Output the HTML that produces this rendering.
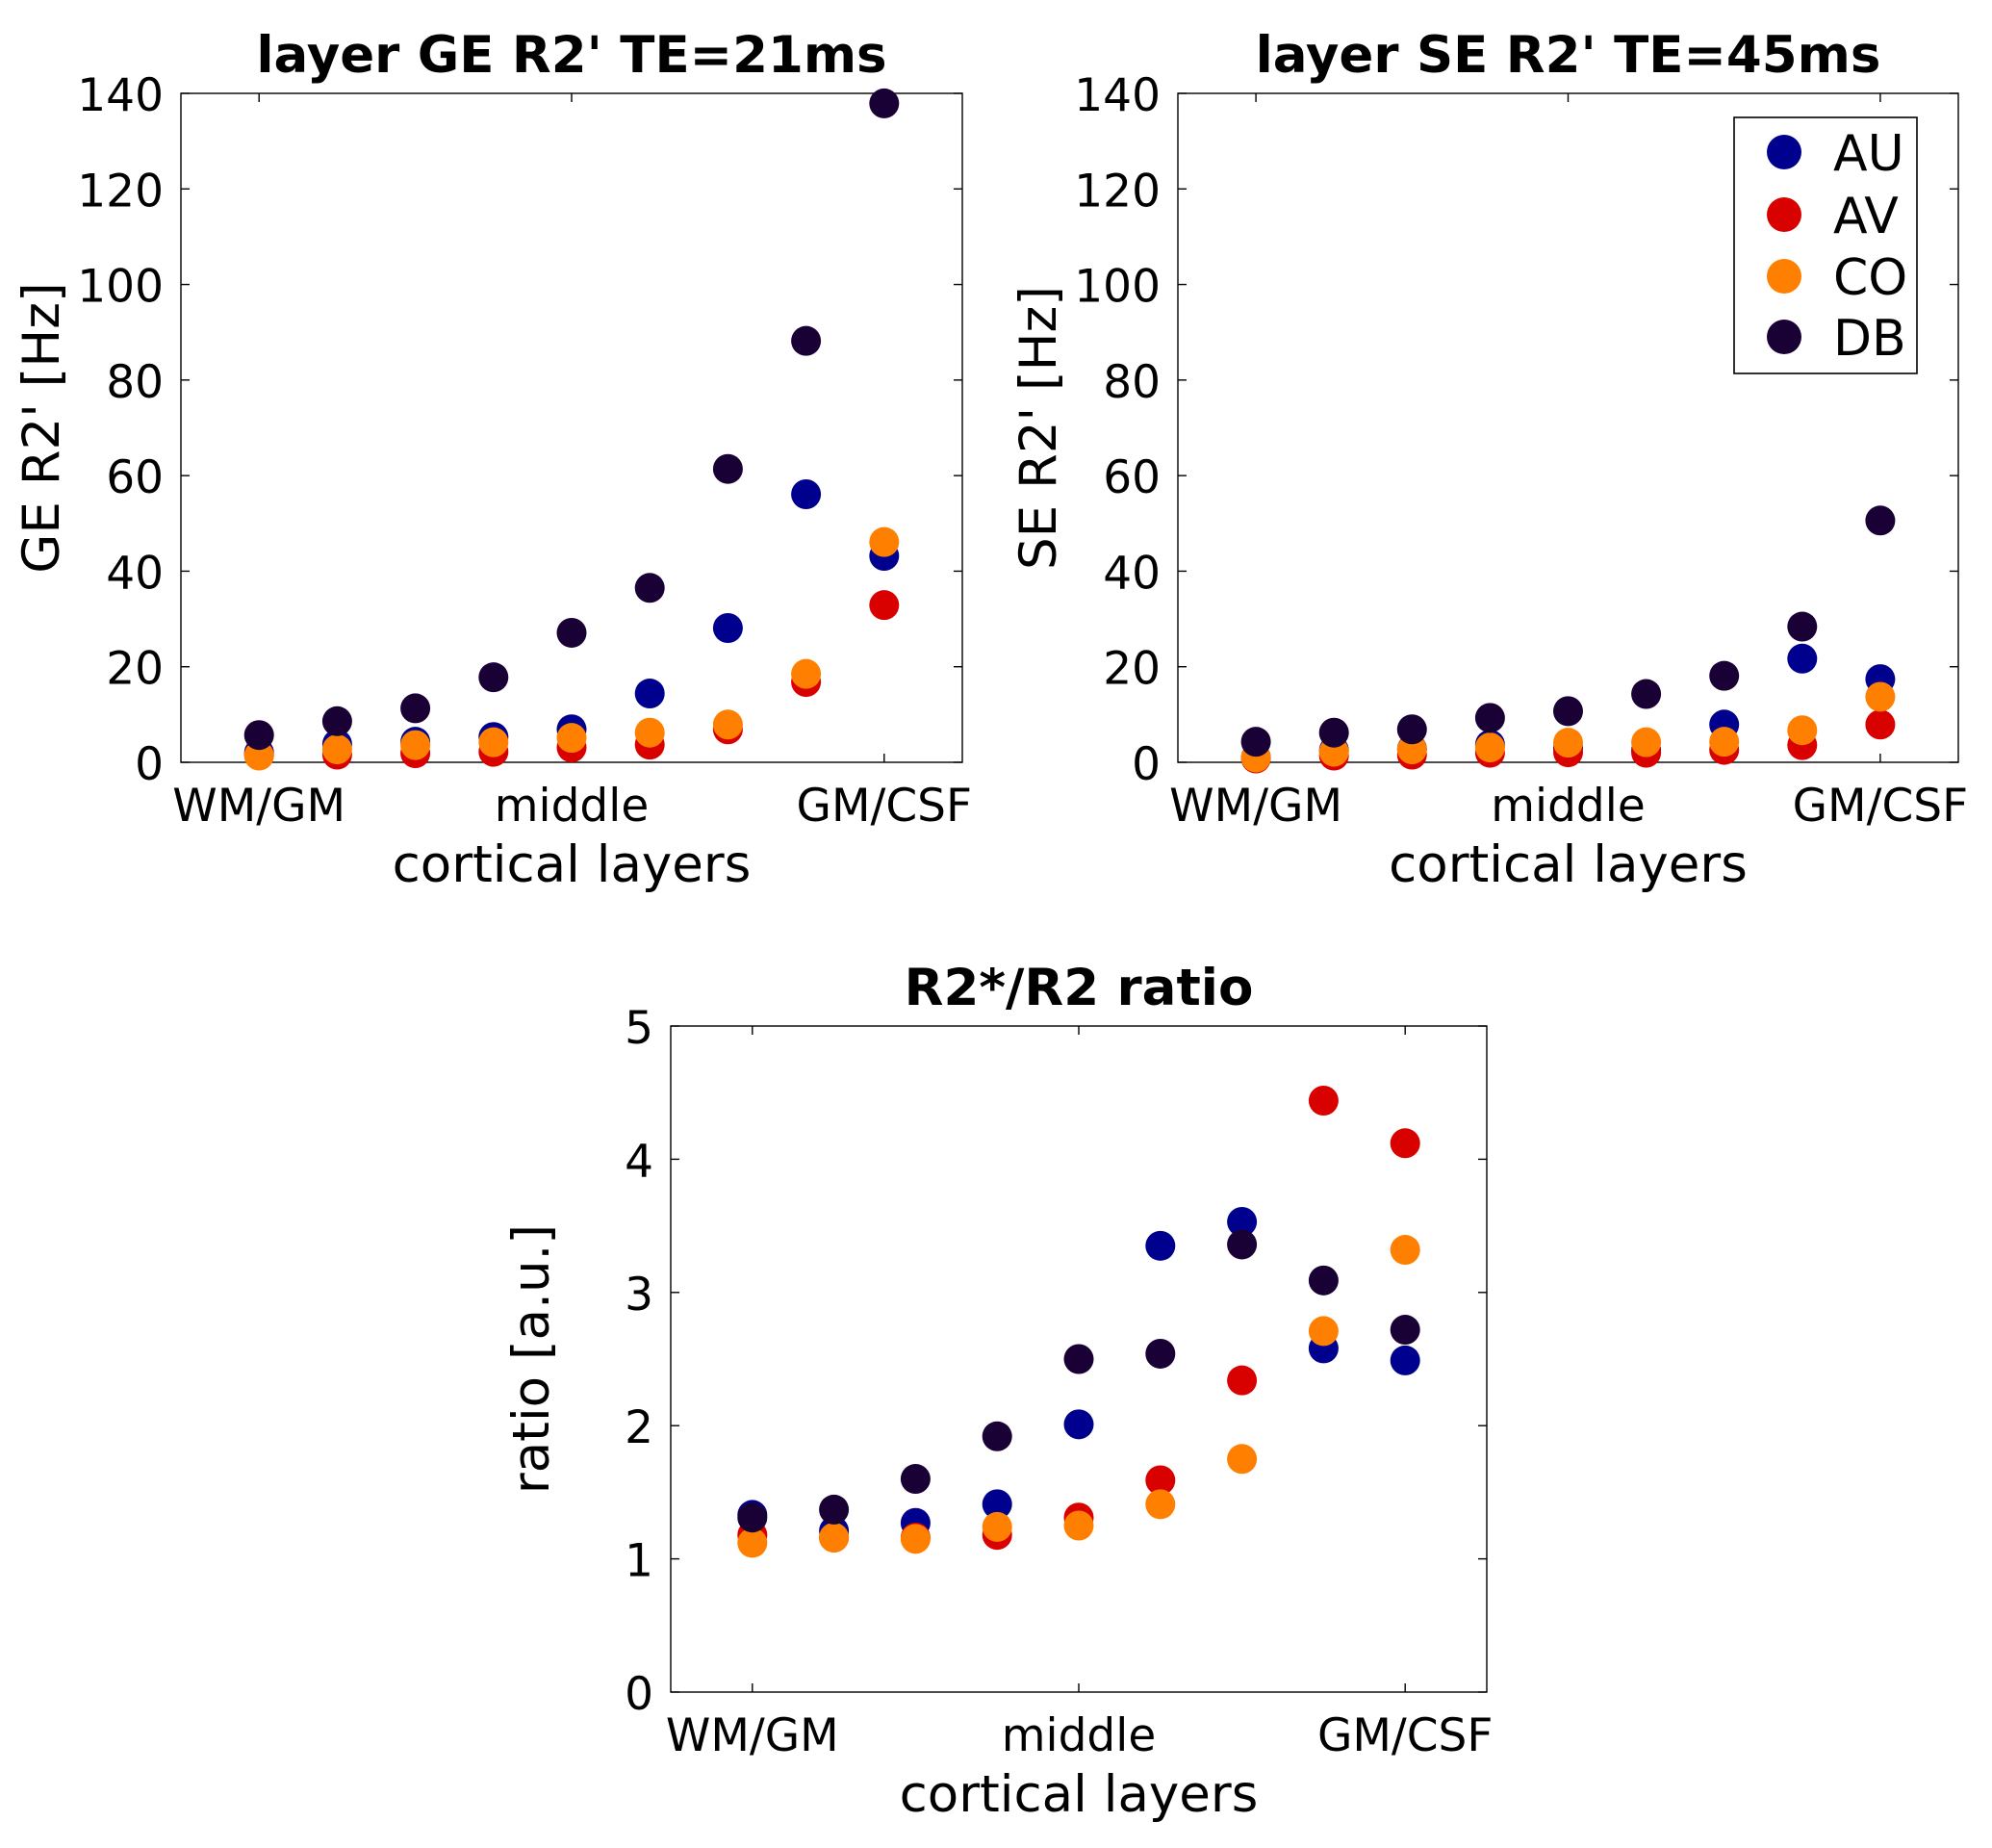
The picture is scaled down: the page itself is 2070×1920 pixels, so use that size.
<!DOCTYPE html>
<html><head><meta charset="utf-8"><style>
html,body{margin:0;padding:0;background:#fff}
svg{display:block}
text{font-family:"DejaVu Sans","Liberation Sans",sans-serif;fill:#000}
</style></head>
<body>
<svg id="fig" width="2070" height="1920" viewBox="0 0 2070 1920" xmlns="http://www.w3.org/2000/svg"></svg>
<script>
const seriesNames = ["AU","AV","CO","DB"];
const seriesColors = ["#00008f","#d90000","#ff7f00","#190035"];
const layerPositions = [1,2,3,4,5,6,7,8,9];
const xTickValues = [1,5,9];
const xTickLabels = ["WM/GM","middle","GM/CSF"];
const ticksHz = [0,20,40,60,80,100,120,140];
const ticksRatio = [0,1,2,3,4,5];

const geAU = [2.0,3.8,4.3,5.3,6.9,14.4,28.1,56.1,43.2];
const geAV = [1.5,1.6,1.9,2.2,3.1,3.7,6.9,16.8,32.9];
const geCO = [1.4,2.7,3.6,4.2,5.1,6.2,7.9,18.5,46.1];
const geDB = [5.7,8.6,11.3,17.8,27.1,36.5,61.4,88.2,137.9];

const seAU = [1.0,2.5,2.8,3.7,3.0,2.5,7.9,21.7,17.4];
const seAV = [0.8,1.4,1.6,2.0,2.1,2.0,2.6,3.6,7.9];
const seCO = [1.0,2.2,2.7,3.1,4.1,4.2,4.3,6.7,13.7];
const seDB = [4.3,6.2,6.9,9.3,10.7,14.3,18.1,28.4,50.6];

const rAU = [1.33,1.21,1.27,1.41,2.01,3.35,3.53,2.58,2.49];
const rAV = [1.18,1.16,1.16,1.18,1.31,1.59,2.34,4.44,4.12];
const rCO = [1.12,1.16,1.15,1.24,1.25,1.41,1.75,2.71,3.32];
const rDB = [1.31,1.37,1.60,1.92,2.50,2.54,3.36,3.09,2.72];

const NS="http://www.w3.org/2000/svg";
const svg=document.getElementById('fig');
function mk(tag,attrs,parent){const e=document.createElementNS(NS,tag);for(const k in attrs)e.setAttribute(k,attrs[k]);(parent||svg).appendChild(e);return e;}

function plot(cfg){
  const g=mk('g',{});
  
  
  const {L,R,T,B,ymax,yticks}=cfg;
  const xs=v=>L+(v-0)/(10-0)*(R-L);
  const ys=v=>B-(v/ymax)*(B-T);
  const frame=mk('rect',{x:L,y:T,width:R-L,height:B-T,fill:'none',stroke:'#000','stroke-width':1.4},g);
  
  
  yticks.forEach(v=>{
    const y=ys(v);
    mk('line',{x1:L,x2:L+9,y1:y,y2:y,stroke:'#000','stroke-width':1.4},g);
    mk('line',{x1:R,x2:R-9,y1:y,y2:y,stroke:'#000','stroke-width':1.4},g);
    const t=mk('text',{x:L-18,y:y+18,'font-size':47,'text-anchor':'end'},g);
    
    
    t.textContent=String(v);
  });
  xTickValues.forEach((v,i)=>{
    const x=xs(v);
    mk('line',{x1:x,x2:x,y1:B,y2:B-9,stroke:'#000','stroke-width':1.4},g);
    mk('line',{x1:x,x2:x,y1:T,y2:T+9,stroke:'#000','stroke-width':1.4},g);
    const t=mk('text',{x:x,y:B+61,'font-size':47,'text-anchor':'middle'},g);
    
    
    t.textContent=xTickLabels[i];
  });
  const title=mk('text',{x:(L+R)/2,y:T-22,'font-size':53,'font-weight':'bold','text-anchor':'middle'},g);
  
  
  title.textContent=cfg.title;
  const xl=mk('text',{x:(L+R)/2,y:B+124,'font-size':53,'text-anchor':'middle'},g);
  
  
  xl.textContent='cortical layers';
  const cy=(T+B)/2, bx=L-127;
  const yl=mk('text',{x:bx,y:cy,'font-size':53,'text-anchor':'middle',transform:`rotate(-90 ${bx} ${cy})`},g);
  
  
  yl.textContent=cfg.ylabel;
  cfg.series.forEach((arr,si)=>{
    arr.forEach((v,i)=>{
      const c=mk('circle',{cx:xs(layerPositions[i]),cy:ys(v),r:15.5,fill:seriesColors[si]},g);
      
      
    });
  });
}

plot({name:'ge-r2prime-chart',L:188,R:1000,T:97,B:792,ymax:140,yticks:ticksHz,
  title:"layer GE R2' TE=21ms",ylabel:"GE R2' [Hz]",series:[geAU,geAV,geCO,geDB]});
plot({name:'se-r2prime-chart',L:1224,R:2035,T:97,B:792,ymax:140,yticks:ticksHz,
  title:"layer SE R2' TE=45ms",ylabel:"SE R2' [Hz]",series:[seAU,seAV,seCO,seDB]});
plot({name:'ratio-chart',L:697,R:1545,T:1066,B:1758,ymax:5,yticks:ticksRatio,
  title:"R2*/R2 ratio",ylabel:"ratio [a.u.]",series:[rAU,rAV,rCO,rDB]});

// legend
const lg=mk('g',{});


mk('rect',{x:1802,y:122,width:190,height:266,fill:'#fff',stroke:'#000','stroke-width':1.6},lg);
const legendY=[158,223,287,350];
seriesNames.forEach((n,i)=>{
  const c=mk('circle',{cx:1854,cy:legendY[i],r:18,fill:seriesColors[i]},lg);
  
  
  const t=mk('text',{x:1905,y:legendY[i]+19,'font-size':52},lg);
  
  
  t.textContent=n;
});
</script>
</body></html>
